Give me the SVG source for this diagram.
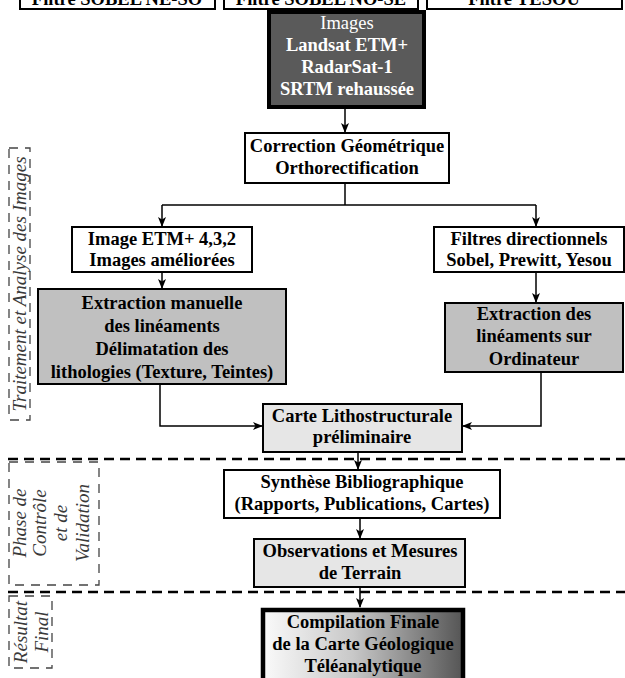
<svg xmlns="http://www.w3.org/2000/svg" width="625" height="678" viewBox="0 0 625 678">
<style>
.box{fill:#fff;stroke:#000;stroke-width:2}
.gray{fill:#c0c0c0;stroke:#000;stroke-width:2}
.light{fill:#e6e6e6;stroke:#000;stroke-width:2}
.t{font-family:"Liberation Serif","Times New Roman",serif;font-size:18.5px;font-weight:bold;fill:#000;text-anchor:middle}
.w{fill:#fff}
.side{font-family:"Liberation Serif","Times New Roman",serif;font-size:19px;font-style:italic;fill:#3a3a3a;text-anchor:middle}
.sbox{fill:none;stroke:#444;stroke-width:1.3;stroke-dasharray:9 7}
.sep{stroke:#000;stroke-width:2.5;stroke-dasharray:10 6;fill:none}
.con{fill:none;stroke:#000;stroke-width:1.5}
</style>
<defs>
<marker id="ah" markerWidth="10" markerHeight="8" refX="9" refY="4" orient="auto" markerUnits="userSpaceOnUse">
<path d="M0,0 L10,4 L0,8 L2.5,4 Z" fill="#000"/>
</marker>
<linearGradient id="grad" x1="0" y1="0" x2="1" y2="0">
<stop offset="0" stop-color="#fafafa"/>
<stop offset="0.45" stop-color="#c8c8c8"/>
<stop offset="1" stop-color="#555"/>
</linearGradient>
</defs>

<g id="separators">
<line class="sep" x1="8" y1="459" x2="625" y2="459"/>
<line class="sep" x1="8" y1="592" x2="625" y2="592"/>
</g>

<g id="side-labels">
<rect class="sbox" x="9" y="148" width="21" height="272"/>
<text class="side" transform="translate(20,284) rotate(-90)" x="0" y="6">Traitement et Analyse des Images</text>
<rect class="sbox" x="9" y="462" width="90" height="123"/>
<text class="side" transform="translate(20,523) rotate(-90)" x="0" y="6">Phase de</text>
<text class="side" transform="translate(40,523) rotate(-90)" x="0" y="6">Contrôle</text>
<text class="side" transform="translate(61,523) rotate(-90)" x="0" y="6">et de</text>
<text class="side" transform="translate(83,523) rotate(-90)" x="0" y="6">Validation</text>
<rect class="sbox" x="9" y="596" width="43" height="72"/>
<text class="side" transform="translate(21,632) rotate(-90)" x="0" y="6">Résultat</text>
<text class="side" transform="translate(42,632) rotate(-90)" x="0" y="6">Final</text>
</g>

<g id="connectors">
<line class="con" x1="345" y1="108" x2="345" y2="132" marker-end="url(#ah)"/>
<polyline class="con" points="345,183 345,205"/>
<line class="con" x1="162" y1="205" x2="536" y2="205"/>
<line class="con" x1="162" y1="205" x2="162" y2="226" marker-end="url(#ah)"/>
<line class="con" x1="536" y1="205" x2="536" y2="226" marker-end="url(#ah)"/>
<line class="con" x1="162" y1="272" x2="162" y2="288" marker-end="url(#ah)"/>
<line class="con" x1="536" y1="272" x2="536" y2="302" marker-end="url(#ah)"/>
<polyline class="con" points="160,385 160,426 262,426" marker-end="url(#ah)"/>
<polyline class="con" points="541,373 541,426 463,426" marker-end="url(#ah)"/>
<line class="con" x1="358" y1="453" x2="358" y2="469" marker-end="url(#ah)"/>
<line class="con" x1="360" y1="519" x2="360" y2="538" marker-end="url(#ah)"/>
<line class="con" x1="360" y1="588" x2="360" y2="607" marker-end="url(#ah)"/>
</g>

<g id="top-filters">
<rect class="box" x="20" y="-20" width="195" height="29"/>
<text class="t" x="117" y="5">Filtre SOBEL NE-SO</text>
<rect class="box" x="224" y="-20" width="194" height="29"/>
<text class="t" x="321" y="5">Filtre SOBEL NO-SE</text>
<rect class="box" x="427" y="-20" width="195" height="29"/>
<text class="t" x="524" y="5">Filtre YESOU</text>
</g>

<g id="images">
<rect x="269" y="12" width="155" height="95" fill="#5a5a5a" stroke="#000" stroke-width="4"/>
<text class="t w" x="347" y="29" style="font-weight:normal">Images</text>
<text class="t w" x="347" y="51">Landsat ETM+</text>
<text class="t w" x="347" y="73">RadarSat-1</text>
<text class="t w" x="347" y="95">SRTM rehaussée</text>
</g>

<g id="correction">
<rect class="box" x="245" y="133" width="204" height="50"/>
<text class="t" x="347" y="152">Correction Géométrique</text>
<text class="t" x="347" y="174">Orthorectification</text>
</g>

<g id="etm">
<rect class="box" x="72" y="227" width="180" height="45"/>
<text class="t" x="162" y="245">Image ETM+ 4,3,2</text>
<text class="t" x="162" y="266">Images améliorées</text>
</g>

<g id="filtres">
<rect class="box" x="434" y="227" width="190" height="45"/>
<text class="t" x="529" y="245">Filtres directionnels</text>
<text class="t" x="529" y="266">Sobel, Prewitt, Yesou</text>
</g>

<g id="extraction-manuelle">
<rect class="gray" x="38" y="289" width="248" height="95"/>
<text class="t" x="162" y="309">Extraction manuelle</text>
<text class="t" x="162" y="332">des linéaments</text>
<text class="t" x="162" y="355">Délimatation des</text>
<text class="t" x="162" y="378">lithologies (Texture, Teintes)</text>
</g>

<g id="extraction-ordinateur">
<rect class="gray" x="445" y="303" width="178" height="69"/>
<text class="t" x="534" y="320">Extraction des</text>
<text class="t" x="534" y="342">linéaments sur</text>
<text class="t" x="534" y="365">Ordinateur</text>
</g>

<g id="carte">
<rect class="light" x="263" y="404" width="199" height="48"/>
<text class="t" x="362" y="422">Carte Lithostructurale</text>
<text class="t" x="362" y="443">préliminaire</text>
</g>

<g id="synthese">
<rect class="box" x="224" y="470" width="276" height="48"/>
<text class="t" x="362" y="488">Synthèse Bibliographique</text>
<text class="t" x="362" y="510">(Rapports, Publications, Cartes)</text>
</g>

<g id="observations">
<rect class="light" x="254" y="539" width="211" height="48"/>
<text class="t" x="360" y="557">Observations et Mesures</text>
<text class="t" x="360" y="579">de Terrain</text>
</g>

<g id="compilation">
<rect x="263" y="610" width="200" height="80" fill="url(#grad)" stroke="#000" stroke-width="4.5"/>
<text class="t" x="363" y="628">Compilation Finale</text>
<text class="t" x="363" y="650">de la Carte Géologique</text>
<text class="t" x="363" y="672">Téléanalytique</text>
</g>
</svg>
